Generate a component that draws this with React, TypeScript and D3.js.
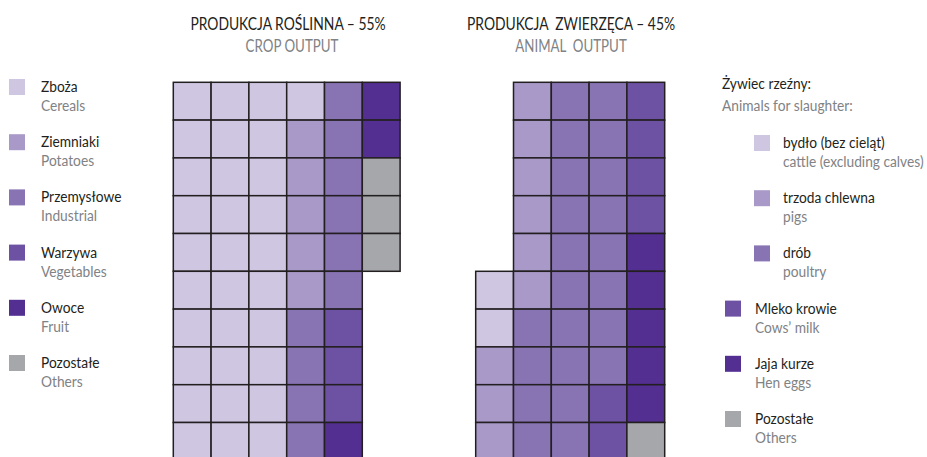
import React from 'react';
import * as d3 from 'd3';

const cropLabelsPl = ['Zboża', 'Ziemniaki', 'Przemysłowe', 'Warzywa', 'Owoce', 'Pozostałe'];
const cropLabelsEn = ['Cereals', 'Potatoes', 'Industrial', 'Vegetables', 'Fruit', 'Others'];
const cropValues = [31, 5, 10, 3, 3, 3];

const animalLabelsPl = ['bydło (bez cieląt)', 'trzoda chlewna', 'drób', 'Mleko krowie', 'Jaja kurze', 'Pozostałe'];
const animalLabelsEn = ['cattle (excluding calves)', 'pigs', 'poultry', 'Cows’ milk', 'Hen eggs', 'Others'];
const animalValues = [2, 9, 22, 6, 5, 1];

const palette = ['#cfc7e2', '#a899c8', '#8873b3', '#6d51a2', '#532f91', '#a6a7aa'];

const FONT = "Lato, 'Open Sans', sans-serif";
const SX = 0.86;
const DARK = '#231f20';
const GREY = '#808285';

const ROWS = 10;
const CELL = 37.8;
const TOP = 82.3;

function buildCells(values: number[], cols: number, offset: number) {
  const cells: { col: number; row: number; cat: number }[] = [];
  let idx = offset;
  values.forEach((v, cat) => {
    for (let i = 0; i < v; i++) {
      cells.push({ col: Math.floor(idx / ROWS), row: idx % ROWS, cat });
      idx++;
    }
  });
  return cells;
}

function Waffle({ values, cols, x0, offset }: { values: number[]; cols: number; x0: number; offset: number }) {
  const x = d3.scaleLinear().domain([0, cols]).range([x0, x0 + cols * CELL]);
  const y = d3.scaleLinear().domain([0, ROWS]).range([TOP, TOP + ROWS * CELL]);
  const color = d3.scaleOrdinal<number, string>().domain(d3.range(6)).range(palette);
  const cells = buildCells(values, cols, offset);
  return (
    <g>
      {cells.map((c, i) => (
        <rect
          key={i}
          x={x(c.col)}
          y={y(c.row)}
          width={x(1) - x(0)}
          height={y(1) - y(0)}
          fill={color(c.cat)}
          stroke={DARK}
          strokeWidth={1.5}
        />
      ))}
    </g>
  );
}

function T({ x, y, size = 16, fill = DARK, anchor = 'start', sx = SX, children }: any) {
  return (
    <text
      transform={`translate(${x},${y}) scale(${sx},1)`}
      fontSize={size}
      fill={fill}
      textAnchor={anchor}
      style={{ whiteSpace: 'pre' }}
    >
      {children}
    </text>
  );
}

function LegendItem({ x, y, tx, pl, en, fill }: { x: number; y: number; tx: number; pl: string; en: string; fill: string }) {
  return (
    <g>
      <rect x={x} y={y} width={16} height={16} fill={fill} />
      <T x={tx} y={y + 13}>{pl}</T>
      <T x={tx} y={y + 32} fill={GREY}>{en}</T>
    </g>
  );
}

export default function App() {
  const legendY = d3.scaleLinear().domain([0, 5]).range([79, 355]);
  const rightY = d3.scaleLinear().domain([0, 5]).range([135, 411]);
  return (
    <svg
      width={927}
      height={457}
      style={{ position: 'absolute', left: 0, top: 0, display: 'block', background: '#fff' }}
      fontFamily={FONT}
    >
      <rect x={0} y={0} width={927} height={457} fill="#fff" />
      <T x={288} y={30} anchor="middle" size={18} sx={0.77}>PRODUKCJA ROŚLINNA – 55%</T>
      <T x={292} y={51.7} anchor="middle" size={18} sx={0.74} fill={GREY}>CROP OUTPUT</T>
      <T x={571} y={30} anchor="middle" size={18} sx={0.77}>PRODUKCJA  ZWIERZĘCA – 45%</T>
      <T x={571} y={51.7} anchor="middle" size={18} sx={0.74} fill={GREY}>ANIMAL  OUTPUT</T>

      <Waffle values={cropValues} cols={6} x0={173.3} offset={0} />
      <Waffle values={animalValues} cols={5} x0={475.7} offset={5 * ROWS - d3.sum(animalValues)} />

      {cropLabelsPl.map((l, i) => (
        <LegendItem key={l} x={9} y={legendY(i)} tx={41} pl={l} en={cropLabelsEn[i]} fill={palette[i]} />
      ))}

      <T x={722} y={89}>Żywiec rzeźny:</T>
      <T x={722} y={111} fill={GREY}>Animals for slaughter:</T>
      {animalLabelsPl.map((l, i) => (
        <LegendItem
          key={l}
          x={i < 3 ? 754 : 725}
          y={rightY(i)}
          tx={i < 3 ? 783 : 755}
          pl={l}
          en={animalLabelsEn[i]}
          fill={palette[i]}
        />
      ))}
    </svg>
  );
}
